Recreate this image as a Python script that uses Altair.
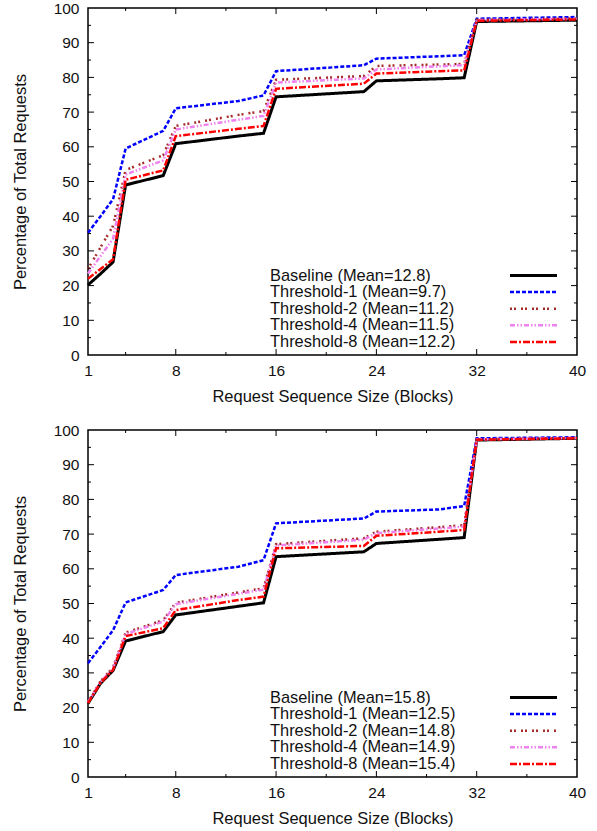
import altair as alt
import pandas as pd

# ---------------- data ----------------
X = [1, 2, 3, 4, 7, 8, 13, 15, 16, 23, 24, 29, 31, 32, 40]
SERIES = ["Baseline", "Threshold-1", "Threshold-2", "Threshold-4", "Threshold-8"]

TOP_MEANS = ["12.8", "9.7", "11.2", "11.5", "12.2"]
BOTTOM_MEANS = ["15.8", "12.5", "14.8", "14.9", "15.4"]

top_baseline = [20.2, 23.4, 26.8, 49.0, 51.7, 60.9, 63.1, 63.9, 74.4, 75.9, 79.0, 79.6, 79.9, 96.1, 96.5]
top_t1       = [35.2, 40.0, 44.9, 59.5, 64.6, 71.1, 73.2, 74.8, 81.8, 83.5, 85.4, 86.1, 86.4, 96.9, 97.4]
top_t2       = [24.8, 31.0, 37.2, 53.3, 57.6, 66.0, 69.2, 70.3, 79.3, 80.4, 83.3, 83.7, 83.9, 96.6, 97.0]
top_t4       = [23.5, 28.5, 33.5, 52.0, 56.1, 65.0, 67.8, 68.9, 78.5, 79.7, 82.3, 83.2, 83.5, 96.5, 96.9]
top_t8       = [22.0, 24.8, 27.6, 50.5, 53.2, 63.1, 65.2, 66.0, 76.7, 78.2, 81.1, 81.8, 82.0, 96.3, 96.7]

bot_baseline = [21.2, 27.0, 30.7, 39.2, 41.9, 46.7, 49.2, 50.2, 63.5, 64.9, 67.3, 68.5, 69.0, 97.1, 97.6]
bot_t1       = [32.8, 37.5, 42.3, 50.3, 53.9, 58.2, 60.6, 62.5, 73.1, 74.5, 76.5, 77.1, 78.1, 97.6, 97.9]
bot_t2       = [21.6, 27.6, 31.6, 41.6, 45.2, 50.2, 53.2, 54.4, 67.1, 68.8, 70.7, 72.0, 72.6, 97.3, 97.7]
bot_t4       = [21.5, 27.4, 31.3, 41.2, 44.8, 49.8, 52.8, 54.0, 66.7, 68.4, 70.3, 71.6, 72.2, 97.3, 97.7]
bot_t8       = [21.3, 27.1, 30.9, 40.6, 42.9, 48.1, 51.0, 52.0, 65.9, 66.6, 69.5, 70.7, 71.2, 97.2, 97.6]

X_LABELS = [1, 8, 16, 24, 32, 40]
X_MAJOR = [8, 16, 24, 32]
X_MINOR = [4, 12, 20, 28, 36]
Y_LABELS = [0, 10, 20, 30, 40, 50, 60, 70, 80, 90, 100]
Y_MAJOR = [10, 20, 30, 40, 50, 60, 70, 80, 90]
Y_MINOR = [5, 15, 25, 35, 45, 55, 65, 75, 85, 95]

# ---------------- styles ----------------
FONT = "Liberation Sans"
W, H = 489, 347
STYLE = {
    "Baseline":    dict(color="#000000", dash=[1, 0], width=3),
    "Threshold-1": dict(color="#0000ff", dash=[4, 2], width=2.5),
    "Threshold-2": dict(color="#a52a2a", dash=[2, 2, 2, 5], width=2.5),
    "Threshold-4": dict(color="#ee82ee", dash=[5, 2, 1.5, 2, 1.5, 2], width=2.5),
    "Threshold-8": dict(color="#ff0000", dash=[7, 2, 2, 2], width=2.5),
}
LEG_TEXT_X = 182
LEG_LINE_X1, LEG_LINE_X2 = 422, 469
LEG_Y0, LEG_DY = 267.5, 16.6

xs = alt.Scale(domain=[1, 40], nice=False, zero=False)
ys = alt.Scale(domain=[0, 100], nice=False, zero=False)
xaxis = alt.Axis(values=X_LABELS, title="Request Sequence Size (Blocks)", ticks=False, tickSize=0,
                 domain=False, grid=False, labelPadding=8, titlePadding=10, labelFlush=False)
yaxis = alt.Axis(values=Y_LABELS, title="Percentage of Total Requests", ticks=False, tickSize=0,
                 domain=False, grid=False, labelPadding=9, titlePadding=25, labelFlush=False)


def panel(series_vals, means):
    layers = []
    for name, vals in zip(SERIES, series_vals):
        st = STYLE[name]
        df = pd.DataFrame({"x": X, "y": vals})
        layers.append(
            alt.Chart(df).mark_line(color=st["color"], strokeDash=st["dash"],
                                    strokeWidth=st["width"], strokeCap="butt")
            .encode(x=alt.X("x:Q", scale=xs, axis=xaxis), y=alt.Y("y:Q", scale=ys, axis=yaxis))
        )
    # inward ticks on all four sides
    for vals, ln in ((X_MAJOR, 6), (X_MINOR, 3)):
        d = pd.DataFrame({"x": vals})
        layers.append(alt.Chart(d).mark_rule(color="black", strokeWidth=1).encode(
            x=alt.X("x:Q", scale=xs, axis=xaxis), y=alt.value(H), y2=alt.value(H - ln)))
        layers.append(alt.Chart(d).mark_rule(color="black", strokeWidth=1).encode(
            x=alt.X("x:Q", scale=xs, axis=xaxis), y=alt.value(0), y2=alt.value(ln)))
    for vals, ln in ((Y_MAJOR, 6), (Y_MINOR, 3)):
        d = pd.DataFrame({"y": vals})
        layers.append(alt.Chart(d).mark_rule(color="black", strokeWidth=1).encode(
            y=alt.Y("y:Q", scale=ys, axis=yaxis), x=alt.value(0), x2=alt.value(ln)))
        layers.append(alt.Chart(d).mark_rule(color="black", strokeWidth=1).encode(
            y=alt.Y("y:Q", scale=ys, axis=yaxis), x=alt.value(W), x2=alt.value(W - ln)))
    # legend inside plot
    for i, (name, m) in enumerate(zip(SERIES, means)):
        st = STYLE[name]
        ry = LEG_Y0 + i * LEG_DY
        layers.append(alt.Chart(alt.Data(values=[{}])).mark_text(
            align="left", baseline="middle", font=FONT, fontSize=16.4, color="#111").encode(
            x=alt.value(LEG_TEXT_X), y=alt.value(ry), text=alt.value(f"{name} (Mean={m})")))
        layers.append(alt.Chart(alt.Data(values=[{}])).mark_rule(
            color=st["color"], strokeDash=st["dash"], strokeWidth=st["width"], strokeCap="butt").encode(
            x=alt.value(LEG_LINE_X1), x2=alt.value(LEG_LINE_X2), y=alt.value(ry)))
    return alt.layer(*layers).properties(width=W, height=H)


top = panel([top_baseline, top_t1, top_t2, top_t4, top_t8], TOP_MEANS)
bottom = panel([bot_baseline, bot_t1, bot_t2, bot_t4, bot_t8], BOTTOM_MEANS)

chart = (
    alt.vconcat(top, bottom, spacing=16)
    .properties(padding={"left": 11, "top": 0, "right": 0, "bottom": 0}, background="white")
    .configure_view(stroke="black", strokeWidth=1.5)
    .configure_axis(labelFont=FONT, titleFont=FONT, labelFontSize=15.5, titleFontSize=16.5,
                    titleFontWeight="normal", labelColor="#111", titleColor="#111")
)

chart.save("out.html", embed_options={"renderer": "svg", "actions": False})
